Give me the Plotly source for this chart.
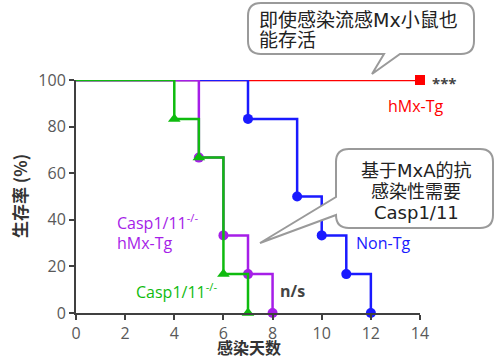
import plotly.graph_objects as go

# ---- data ----
red_days = [0, 14]
red_surv = [100, 100]
blue_days = [0, 7, 9, 10, 11, 12]
blue_surv = [100, 83.3, 50, 33.3, 16.7, 0]
purple_days = [0, 5, 6, 7, 8]
purple_surv = [100, 66.7, 33.3, 16.7, 0]
green_days = [0, 4, 5, 6, 7]
green_surv = [100, 83.3, 66.7, 16.7, 0]
x_ticks = [0, 2, 4, 6, 8, 10, 12, 14]
y_ticks = [0, 20, 40, 60, 80, 100]

RED = "#ff0000"
BLUE = "#1a1aff"
PURPLE = "#a61ee8"
GREEN = "#0fbb0f"

W, H = 500, 360
L, R, T, B = 76, 80, 80, 47
PW, PH = W - L - R, H - T - B

def px(x):
    return (x - L) / PW

def py(y):
    return (H - B - y) / PH

LATIN = "Open Sans, Noto Sans CJK SC"
CALL = "DejaVu Sans, Noto Sans CJK SC"
CJK = "Noto Sans CJK SC"

fig = go.Figure()

def add_group(days, surv, color, symbol, msize):
    fig.add_trace(go.Scatter(x=days, y=surv, mode="lines", line=dict(color=color, width=2.5, shape="hv"),
                             hoverinfo="skip", showlegend=False, cliponaxis=False))
    fig.add_trace(go.Scatter(x=days[1:], y=surv[1:], mode="markers",
                             marker=dict(color=color, symbol=symbol, size=msize),
                             showlegend=False, cliponaxis=False))

# drawing order: red bottom, then blue, purple, green on top
fig.add_trace(go.Scatter(x=red_days, y=red_surv, mode="lines", line=dict(color=RED, width=2.5),
                         showlegend=False, cliponaxis=False))
fig.add_trace(go.Scatter(x=red_days[-1:], y=red_surv[-1:], mode="markers",
                         marker=dict(color=RED, symbol="square", size=10),
                         showlegend=False, cliponaxis=False))
add_group(blue_days, blue_surv, BLUE, "circle", 10)
add_group(purple_days, purple_surv, PURPLE, "circle", 10)
add_group(green_days, green_surv, GREEN, "triangle-up", 11)

def callout(x0, y0, x1, y1, r, side, p):
    def P(x, y):
        return f"{px(x):.5f},{py(y):.5f}"
    d = f"M {P(x0 + r, y0)} L {P(x1 - r, y0)} Q {P(x1, y0)} {P(x1, y0 + r)} L {P(x1, y1 - r)} Q {P(x1, y1)} {P(x1 - r, y1)} "
    if side == "bottom":
        d += f"L {P(*p[0])} L {P(*p[1])} L {P(*p[2])} "
    d += f"L {P(x0 + r, y1)} Q {P(x0, y1)} {P(x0, y1 - r)} "
    if side == "left":
        d += f"L {P(*p[0])} L {P(*p[1])} L {P(*p[2])} "
    d += f"L {P(x0, y0 + r)} Q {P(x0, y0)} {P(x0 + r, y0)} Z"
    fig.add_shape(type="path", path=d, xref="paper", yref="paper",
                  line=dict(color="#9a9a9a", width=2), fillcolor="white", layer="above")

callout(248, 3, 474, 54, 13, "bottom", [(400, 54), (372, 74), (384, 54)])
callout(336, 149, 493, 228, 13, "left", [(336, 215), (260, 243), (336, 197)])

def ann(text, x, y, color, size, bold=False, xanchor="center", align="center", family=LATIN, angle=0,
        yanchor="middle"):
    if bold:
        text = f"<b>{text}</b>"
    fig.add_annotation(text=text, x=px(x), y=py(y), xref="paper", yref="paper", showarrow=False,
                       xanchor=xanchor, yanchor=yanchor, align=align, textangle=angle,
                       font=dict(color=color, size=size, family=family))

ann("即使感染流感Mx小鼠也", 257, 20, "#222222", 19, xanchor="left", family=CALL)
ann("能存活", 257, 40, "#222222", 19, xanchor="left", family=CALL)
ann("基于MxA的抗", 416, 170, "#222222", 18, family=CALL)
ann("感染性需要", 416, 191, "#222222", 18, family=CALL)
ann("Casp1/11", 416, 212, "#222222", 18, family=CALL)

ann("***", 445, 83, "#444444", 15, bold=True)
ann("hMx-Tg", 416, 106, RED, 16)
ann("Non-Tg", 383, 243, BLUE, 16)
ann("Casp1/11<sup>-/-</sup>", 115, 222, PURPLE, 16, xanchor="left")
ann("hMx-Tg", 115, 243, PURPLE, 16, xanchor="left")
ann("Casp1/11<sup>-/-</sup>", 134, 291, GREEN, 16, xanchor="left")
ann("n/s", 292, 291, "#444444", 16, bold=True)

ann("感染天数", 249, 361, "#333333", 16, bold=True, family=CJK, yanchor="bottom")
ann("生存率 (%)", 19, 196, "#333333", 17, bold=True, family=CJK, angle=-90)

axis_common = dict(showline=True, linecolor="#404040", linewidth=2, ticks="outside", ticklen=5,
                   tickwidth=2, tickcolor="#404040", showgrid=False, zeroline=False,
                   tickfont=dict(family=LATIN, size=16, color="#595959"))
fig.update_xaxes(range=[0, 14], tickvals=x_ticks, **axis_common)
fig.update_yaxes(range=[0, 100], tickvals=y_ticks, **axis_common)

fig.update_layout(width=W, height=H, margin=dict(l=L, r=R, t=T, b=B, pad=0),
                  plot_bgcolor="white", paper_bgcolor="white", showlegend=False)

fig.write_html("out.html", config={"displayModeBar": False},
               post_script="document.body.style.margin='0';document.body.style.overflow='hidden';")
